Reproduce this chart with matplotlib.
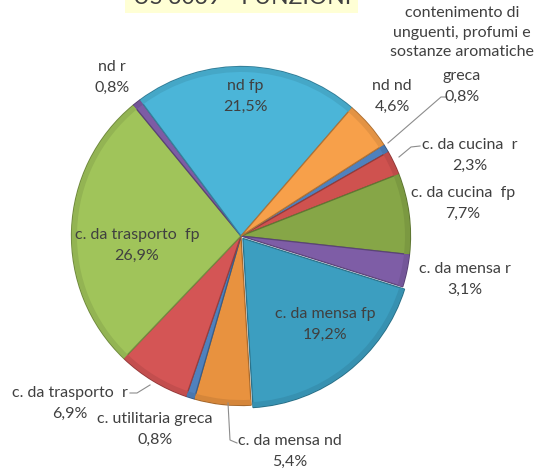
import matplotlib
matplotlib.use("Agg")
import matplotlib.pyplot as plt
import matplotlib.colors as mcolors
import numpy as np

# ---- data ----
labels = [
    "contenimento di\nunguenti, profumi e\nsostanze aromatiche\ngreca",
    "c. da cucina  r",
    "c. da cucina  fp",
    "c. da mensa r",
    "c. da mensa fp",
    "c. da mensa nd",
    "c. utilitaria greca",
    "c. da trasporto  r",
    "c. da trasporto  fp",
    "nd r",
    "nd fp",
    "nd nd",
]
values = [0.8, 2.3, 7.7, 3.1, 19.2, 5.4, 0.8, 6.9, 26.9, 0.8, 21.5, 4.6]
pct_text = ["0,8%", "2,3%", "7,7%", "3,1%", "19,2%", "5,4%", "0,8%", "6,9%",
            "26,9%", "0,8%", "21,5%", "4,6%"]
colors = ["#4F81BD", "#CF524F", "#86A647", "#7E5DA6", "#3C9EC0", "#E8923F",
          "#4F81BD", "#D45555", "#A0C45A", "#7D5CA4", "#4BB5D8", "#F7A04A"]
title = "US 3039 - FUNZIONI"

W, H = 541, 473
fig = plt.figure(figsize=(W / 100, H / 100), dpi=100)
ax = fig.add_axes([0, 0, 1, 1])

def Y(y):  # pixel (top-down) -> data
    return H - y

cx, cy, R = 241, Y(236), 169.5
explode = [0, 0, 0, 0, 3, 0, 0, 0, 0, 0, 0, 0]
edges = [tuple(np.array(mcolors.to_rgb(c)) * 0.72) for c in colors]
wedges, _ = ax.pie(values, colors=colors, startangle=32.6, counterclock=False,
                   center=(cx, cy), radius=R, explode=explode, frame=True,
                   wedgeprops=dict(linewidth=0.9))
for w, e in zip(wedges, edges):
    w.set_edgecolor(e)

# subtle darker outer rim to hint at the bevel
ax.pie(values, colors=[tuple(np.array(mcolors.to_rgb(c)) * 0.92) for c in colors],
       startangle=32.6, counterclock=False, center=(cx, cy), radius=R - 0.5,
       explode=explode, frame=True,
       wedgeprops=dict(width=5, linewidth=0, edgecolor="none"))

ax.set_xlim(0, W)
ax.set_ylim(0, H)
ax.set_aspect("equal")
ax.axis("off")

fam = ["Lato", "DejaVu Sans"]
tc = "#404040"
fs = 11.5
ls = 1.62

# title (cut off at top)
ax.add_patch(plt.Rectangle((125, Y(13)), 233, 13, facecolor="#FFFFD5",
                           edgecolor="none", zorder=0))
ax.text(242, Y(4), title, ha="center", va="baseline", fontsize=16.5, color=tc,
        family=fam)

label_pos = {
    1: (470, 155),
    2: (463, 203),
    3: (465, 279),
    4: (325, 324),
    5: (290, 451),
    6: (155, 429),
    7: (70, 403),
    8: (137, 245),
    9: (112, 77),
    10: (245, 96),
    11: (392, 96),
}
for i, (x, y) in label_pos.items():
    ax.text(x, Y(y), labels[i] + "\n" + pct_text[i], ha="center", va="center",
            fontsize=fs, color=tc, family=fam, linespacing=ls)

# the long label is split into its upper and lower part
top_part, last_part = labels[0].rsplit("\n", 1)
ax.text(462, Y(33), top_part, ha="center", va="center",
        fontsize=fs, color=tc, family=fam, linespacing=1.5)
ax.text(462, Y(86), last_part + "\n" + pct_text[0], ha="center", va="center",
        fontsize=fs, color=tc, family=fam, linespacing=ls)

# leader lines
lc = "#8C8C8C"
lines = [
    [(447, 97), (441, 97), (388, 143)],
    [(420, 146), (411, 147), (399, 157)],
    [(237, 443), (230, 440), (228, 403)],
    [(130, 393), (137, 393), (150, 385)],
]
for pts in lines:
    xs = [p[0] for p in pts]
    ys = [Y(p[1]) for p in pts]
    ax.plot(xs, ys, color=lc, lw=0.8)

fig.savefig("out.png", dpi=100)
